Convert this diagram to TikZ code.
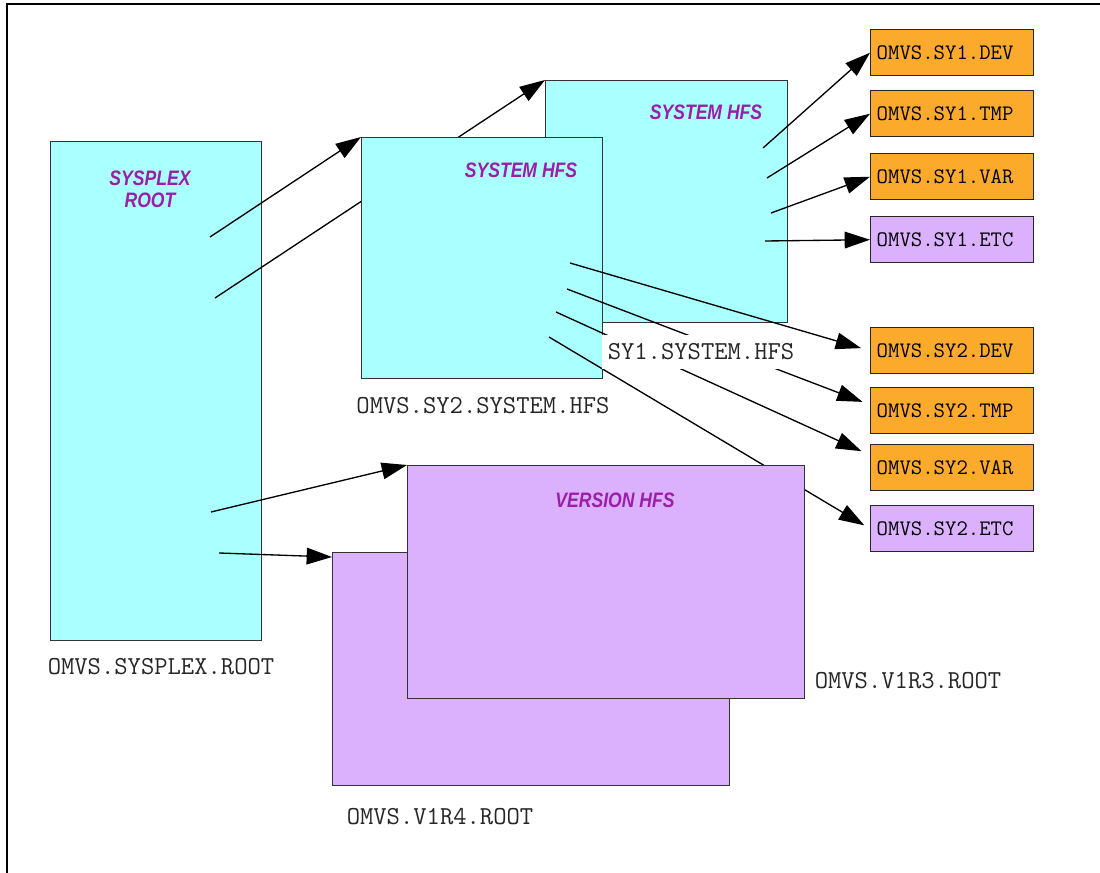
\documentclass[tikz,border=0pt]{standalone}
\usepackage{fontspec}
\usepackage{tikz}
\usetikzlibrary{arrows.meta}
\newfontfamily\hfsfont[FakeStretch=0.84]{Liberation Sans}
\definecolor{hfscyan}{HTML}{AAFFFF}
\definecolor{hfslilac}{HTML}{DBB1FE}
\definecolor{hfsorange}{HTML}{FBAA2C}
\definecolor{hfstitle}{HTML}{9B1EAA}

\begin{document}
\begin{tikzpicture}[x=0.75pt,y=-0.75pt,
    fsbox/.style={draw=black!80,line width=0.8pt,inner sep=0pt,anchor=north west},
    dsbox/.style={draw=black!85,line width=1.1pt,anchor=north west,inner xsep=4.5pt,
        minimum width=122.25pt,minimum height=34.5pt,text width=113.25pt,align=left,
        font=\ttfamily\fontsize{16.6}{18}\selectfont},
    dsname/.style={text=black!85,font=\ttfamily\fontsize{19.4}{21}\selectfont},
    hfsname/.style={text=hfstitle,align=center,font=\hfsfont\bfseries\itshape\fontsize{15.7}{16.5}\selectfont},
    conn/.style={line width=1pt,-{Triangle[length=19pt,width=12.5pt]}}]
    \useasboundingbox (0,0) rectangle (1100,873);
    \draw[line width=1.1pt] (7,873) -- (7,4) -- (1100,4);

    % sysplex root
    \node[fsbox,fill=hfscyan,minimum width=158.25pt,minimum height=374.25pt] (root) at (50,141) {};
    \node[hfsname] (roottitle) at (150,189) {SYSPLEX\\ROOT};
    \node[dsname] (rootname) at (161,667) {OMVS.SYSPLEX.ROOT};
    \coordinate (r1) at (210,237);
    \coordinate (r2) at (215,298);
    \coordinate (r3) at (211,512);
    \coordinate (r4) at (219,553);

    % system hfs for SY1 and SY2
    \node[fsbox,fill=hfscyan,minimum width=181.5pt,minimum height=181.5pt] (sy1) at (545,80) {};
    \node[hfsname] (sy1title) at (706,112) {SYSTEM HFS};
    \draw[conn] (r2) -- (sy1.north west);
    \node[fsbox,fill=hfscyan,minimum width=180.75pt,minimum height=180.75pt] (sy2) at (361,137) {};
    \node[hfsname] (sy2title) at (521,170) {SYSTEM HFS};
    \node[dsname] (sy2name) at (483,406) {OMVS.SY2.SYSTEM.HFS};
    \draw[conn] (r1) -- (sy2.north west);

    % mount points
    \node[dsbox,fill=hfsorange] (dev1) at (870,29) {OMVS.SY1.DEV};
    \node[dsbox,fill=hfsorange] (tmp1) at (870,90) {OMVS.SY1.TMP};
    \node[dsbox,fill=hfsorange] (var1) at (870,153) {OMVS.SY1.VAR};
    \node[dsbox,fill=hfslilac] (etc1) at (870,216) {OMVS.SY1.ETC};
    \node[dsbox,fill=hfsorange] (dev2) at (870,327) {OMVS.SY2.DEV};
    \node[dsbox,fill=hfsorange] (tmp2) at (870,387) {OMVS.SY2.TMP};
    \node[dsbox,fill=hfsorange] (var2) at (870,444) {OMVS.SY2.VAR};
    \node[dsbox,fill=hfslilac] (etc2) at (870,505) {OMVS.SY2.ETC};

    \coordinate (a1) at (763,148);
    \coordinate (a2) at (767,178);
    \coordinate (a3) at (771,213);
    \coordinate (a4) at (765,241);
    \draw[conn] (a1) -- (dev1.west);
    \draw[conn] (a2) -- (tmp1.west);
    \draw[conn] (a3) -- (var1.west);
    \draw[conn] (a4) -- (etc1.west);

    \coordinate (b1) at (570,263);
    \coordinate (b2) at (567,289);
    \coordinate (b3) at (556,312);
    \coordinate (b4) at (549,337);
    \draw[conn,shorten >=7pt] (b1) -- (dev2.west);
    \draw[conn,shorten >=6pt] (b2) -- ([yshift=4.5pt]tmp2.west);
    \draw[conn,shorten >=7pt] (b3) -- ([yshift=9.5pt]var2.west);
    \draw[conn,shorten >=5pt] (b4) -- (etc2.west);
    \node[dsname,fill=white,inner sep=0pt,minimum width=148.5pt,minimum height=25.5pt] (sy1name) at (701,352) {SY1.SYSTEM.HFS};

    % version hfs
    \node[fsbox,fill=hfslilac,minimum width=297.75pt,minimum height=174.75pt] (v1r4) at (332,552) {};
    \node[fsbox,fill=hfslilac,minimum width=297.75pt,minimum height=174.75pt] (v1r3) at (407,465) {};
    \node[hfsname] (v1r3title) at (615,500) {VERSION HFS};
    \node[dsname] (v1r3name) at (908,681) {OMVS.V1R3.ROOT};
    \node[dsname] (v1r4name) at (440,817) {OMVS.V1R4.ROOT};
    \draw[conn] (r3) -- (v1r3.north west);
    \draw[conn] (r4) -- ([yshift=-3.75pt]v1r4.north west);
\end{tikzpicture}
\end{document}
